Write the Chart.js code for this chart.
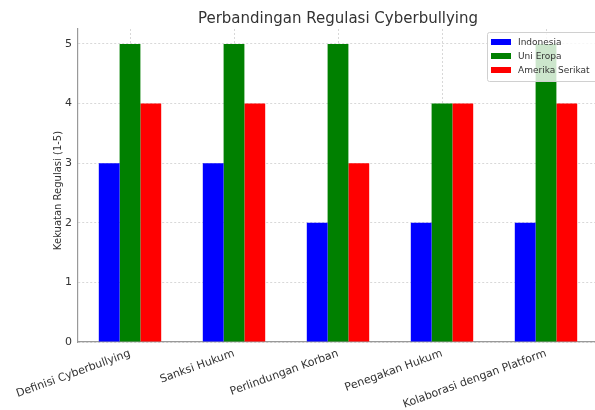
<!DOCTYPE html>
<html><head><meta charset="utf-8">
<script src="https://cdn.jsdelivr.net/npm/chart.js@4"></script>
<style>html,body{margin:0;padding:0;overflow:hidden;background:#fff}#wrap{width:600px;height:410px}</style>
</head><body><div id="wrap"><canvas id="c" width="600" height="410"></canvas></div>
<script>
const categories = ["Definisi Cyberbullying", "Sanksi Hukum", "Perlindungan Korban", "Penegakan Hukum", "Kolaborasi dengan Platform"];
const seriesNames = ["Indonesia", "Uni Eropa", "Amerika Serikat"];
const indonesia = [3, 3, 2, 2, 2];
const uniEropa = [5, 5, 5, 4, 5];
const amerikaSerikat = [4, 4, 3, 4, 4];
const yTicks = [0, 1, 2, 3, 4, 5];
const chartTitle = "Perbandingan Regulasi Cyberbullying";
const yLabel = "Kekuatan Regulasi (1-5)";

const FONT = "'DejaVu Sans', sans-serif";
const colors = ["#0000ff", "#008000", "#ff0000"];

const extras = {
  id: 'extras',
  afterDraw(chart) {
    const ctx = chart.ctx, a = chart.chartArea;
    ctx.save();
    // title
    ctx.fillStyle = '#333';
    ctx.font = "15px " + FONT;
    ctx.textAlign = 'center';
    ctx.textBaseline = 'alphabetic';
    ctx.fillText(chartTitle, (a.left + a.right) / 2, 23);
    // y label
    ctx.save();
    ctx.translate(58, (a.top + a.bottom) / 2 + 5);
    ctx.rotate(-Math.PI / 2);
    ctx.font = "10px " + FONT;
    ctx.textBaseline = 'middle';
    ctx.fillText(yLabel, 0, 0);
    ctx.restore();
    // legend
    const lx = 487, ly = 32, lw = 120, lh = 49;
    ctx.fillStyle = 'rgba(255,255,255,0.8)';
    ctx.strokeStyle = '#d0d0d0';
    ctx.lineWidth = 1;
    ctx.beginPath();
    ctx.roundRect(lx + 0.5, ly + 0.5, lw, lh, 2);
    ctx.fill(); ctx.stroke();
    ctx.font = "9px " + FONT;
    ctx.textAlign = 'left';
    ctx.textBaseline = 'middle';
    chart.data.datasets.forEach((ds, i) => {
      const y = ly + 10 + i * 14;
      ctx.fillStyle = ds.backgroundColor;
      ctx.fillRect(lx + 4, y - 3, 20, 6);
      ctx.fillStyle = '#333';
      ctx.fillText(ds.label, lx + 31, y + 0.5);
    });
    ctx.restore();
  }
};

new Chart(document.getElementById('c'), {
  type: 'bar',
  data: {
    labels: categories,
    datasets: [
      { label: seriesNames[0], data: indonesia, backgroundColor: colors[0] },
      { label: seriesNames[1], data: uniEropa, backgroundColor: colors[1] },
      { label: seriesNames[2], data: amerikaSerikat, backgroundColor: colors[2] }
    ]
  },
  options: {
    responsive: false,
    devicePixelRatio: 1,
    animation: false,
    layout: { padding: { top: 29, right: 2, left: 0, bottom: 0 } },
    datasets: { bar: { categoryPercentage: 0.6, barPercentage: 1.0, borderWidth: 0 } },
    plugins: { legend: { display: false }, title: { display: false }, tooltip: { enabled: false } },
    scales: {
      x: {
        z: 1,
        offset: true,
        grid: { offset: false, color: 'rgba(160,160,160,0.5)', lineWidth: 0.8, drawTicks: false, tickLength: 0 },
        border: { display: true, color: '#999', width: 1.2, dash: [2, 2] },
        ticks: { color: '#333', font: { family: FONT, size: 11 }, minRotation: 20, maxRotation: 20, autoSkip: false, padding: 5 },
        afterFit(s) { s.height = 68; }
      },
      y: {
        z: 1,
        min: 0, max: 5.25,
        grid: { color: 'rgba(160,160,160,0.5)', lineWidth: 0.8, drawTicks: false, tickLength: 0 },
        border: { display: true, color: '#999', width: 1.2, dash: [2, 2] },
        ticks: { color: '#333', font: { family: FONT, size: 11 }, padding: 6 },
        afterBuildTicks(s) { s.ticks = yTicks.map(v => ({ value: v })); },
        afterFit(s) { s.width = 78; }
      }
    }
  },
  plugins: [extras]
});
</script></body></html>
